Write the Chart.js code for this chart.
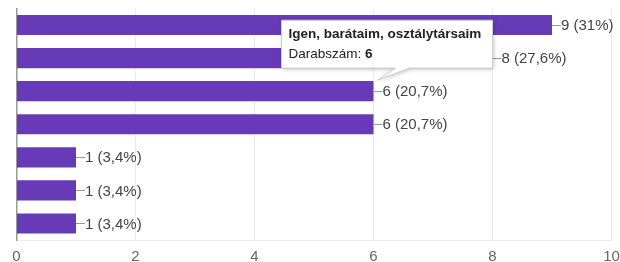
<!DOCTYPE html>
<html>
<head>
<meta charset="utf-8">
<script src="https://cdn.jsdelivr.net/npm/chart.js@4"></script>
<style>
  html, body { margin: 0; padding: 0; background: #fff; }
  #wrap { width: 620px; height: 262px; }
</style>
</head>
<body>
<div id="wrap"><canvas id="mainChart" width="620" height="262"></canvas></div>
<script>
// Data
const categories = ['Válasz 1', 'Válasz 2', 'Igen, barátaim, osztálytársaim', 'Válasz 4', 'Válasz 5', 'Válasz 6', 'Válasz 7'];
const counts = [9, 8, 6, 6, 1, 1, 1];
const percents = ['31%', '27,6%', '20,7%', '20,7%', '3,4%', '3,4%', '3,4%'];
const xTicks = [0, 2, 4, 6, 8, 10];
const tooltipIndex = 2;
const countLabel = 'Darabszám: ';

const FONT = 'Arial, "Liberation Sans", sans-serif';

// value labels with a short leader line, e.g. "—9 (31%)"
const valueLabels = {
    id: 'valueLabels',
    afterDatasetsDraw(chart) {
        const ctx = chart.ctx;
        const meta = chart.getDatasetMeta(0);
        ctx.save();
        ctx.font = '15px ' + FONT;
        ctx.textBaseline = 'middle';
        meta.data.forEach((bar, i) => {
            ctx.strokeStyle = '#999';
            ctx.lineWidth = 1;
            ctx.beginPath();
            ctx.moveTo(bar.x, Math.round(bar.y) + 0.5);
            ctx.lineTo(bar.x + 9, Math.round(bar.y) + 0.5);
            ctx.stroke();
            ctx.fillStyle = '#444';
            ctx.fillText(counts[i] + ' (' + percents[i] + ')', bar.x + 9, bar.y + 1);
        });
        ctx.restore();
    }
};

// Google-forms style hover box pinned to one bar
const hoverBox = {
    id: 'hoverBox',
    afterDraw(chart) {
        const ctx = chart.ctx;
        const bar = chart.getDatasetMeta(0).data[tooltipIndex];
        const tipX = bar.x + 4, tipY = bar.y - 11;
        const left = bar.x - 92, top = bar.y - 71, w = 211, h = 48;
        const bottom = top + h;

        ctx.save();
        ctx.shadowColor = 'rgba(0,0,0,0.25)';
        ctx.shadowBlur = 4;
        ctx.shadowOffsetX = 1;
        ctx.shadowOffsetY = 1;
        ctx.fillStyle = '#fff';
        ctx.beginPath();
        ctx.moveTo(left, top);
        ctx.lineTo(left + w, top);
        ctx.lineTo(left + w, bottom);
        ctx.lineTo(left + 128, bottom);
        ctx.lineTo(tipX, tipY);
        ctx.lineTo(left + 114, bottom);
        ctx.lineTo(left, bottom);
        ctx.closePath();
        ctx.fill();
        ctx.shadowColor = 'transparent';
        ctx.strokeStyle = '#ccc';
        ctx.lineWidth = 1;
        ctx.stroke();

        ctx.fillStyle = '#222';
        ctx.textBaseline = 'alphabetic';
        ctx.font = 'bold 13.5px ' + FONT;
        ctx.fillText(categories[tooltipIndex], left + 7, top + 18);
        ctx.font = '13.5px ' + FONT;
        ctx.fillText(countLabel, left + 7, top + 38);
        const lw = ctx.measureText(countLabel).width;
        ctx.font = 'bold 13.5px ' + FONT;
        ctx.fillText(String(counts[tooltipIndex]), left + 7 + lw, top + 38);
        ctx.restore();
    }
};

const ctx = document.getElementById('mainChart').getContext('2d');
new Chart(ctx, {
    type: 'bar',
    data: {
        labels: categories,
        datasets: [{
            data: counts,
            backgroundColor: '#673ab7',
            borderWidth: 0,
            categoryPercentage: 1,
            barPercentage: 0.61
        }]
    },
    options: {
        indexAxis: 'y',
        responsive: false,
        animation: false,
        layout: { padding: { left: 16.5, right: 8.5, top: 8.5, bottom: 0 } },
        scales: {
            x: {
                min: 0,
                max: 10,
                afterBuildTicks: axis => { axis.ticks = xTicks.map(v => ({ value: v })); },
                afterFit: axis => { axis.height = 22; axis.paddingLeft = 0; axis.paddingRight = 0; },
                grid: { color: '#ebebeb', drawTicks: false },
                border: { color: '#ebebeb' },
                ticks: { color: '#666', font: { size: 15, family: FONT }, padding: 8 }
            },
            y: {
                afterFit: axis => { axis.width = 0; },
                grid: { display: false },
                border: { color: '#999', width: 1.5 },
                ticks: { display: false }
            }
        },
        plugins: {
            legend: { display: false },
            tooltip: { enabled: false }
        }
    },
    plugins: [valueLabels, hoverBox]
});
</script>
</body>
</html>
